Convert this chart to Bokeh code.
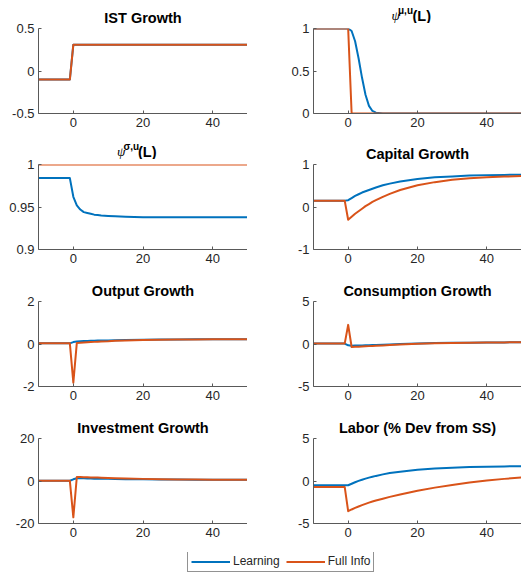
from bokeh.plotting import figure
from bokeh.models import Range1d, FixedTicker, Label, Legend, LegendItem, CustomJSTickFormatter
from bokeh.layouts import column, row
from bokeh.embed import file_html
from bokeh.resources import INLINE

# ---------------- data ----------------
t = [-10, -1, 0, 1, 2, 3, 4, 5, 6, 7, 8, 10, 12, 15, 20, 25, 30, 35, 40, 45, 50]

ist_learning = [-0.1, -0.1] + [0.31] * 19
ist_full = [-0.1, -0.1] + [0.31] * 19

psi_mu_learning = [1, 1, 1, 0.97, 0.85, 0.65, 0.42, 0.22, 0.09, 0.03, 0.01, 0, 0, 0, 0, 0, 0, 0, 0, 0, 0]
psi_mu_full = [1, 1, 1, 0, 0, 0, 0, 0, 0, 0, 0, 0, 0, 0, 0, 0, 0, 0, 0, 0, 0]

psi_sigma_learning = [0.984, 0.984, 0.962, 0.952, 0.947, 0.944, 0.943, 0.942, 0.941, 0.9405, 0.940,
                      0.9395, 0.939, 0.9385, 0.938, 0.938, 0.938, 0.938, 0.938, 0.938, 0.938]
psi_sigma_full = [1] * 21

capital_learning = [0.15, 0.15, 0.16, 0.21, 0.26, 0.30, 0.34, 0.37, 0.40, 0.43, 0.46,
                    0.51, 0.55, 0.60, 0.66, 0.70, 0.72, 0.74, 0.75, 0.755, 0.76]
capital_full = [0.15, 0.15, -0.30, -0.23, -0.16, -0.10, -0.04, 0.02, 0.07, 0.12, 0.16,
                0.24, 0.31, 0.40, 0.51, 0.585, 0.64, 0.675, 0.70, 0.715, 0.73]

output_learning = [0.03, 0.03, 0.09, 0.12, 0.13, 0.14, 0.14, 0.15, 0.15, 0.16, 0.16,
                   0.17, 0.18, 0.19, 0.20, 0.21, 0.21, 0.22, 0.22, 0.22, 0.22]
output_full = [0.03, 0.03, -1.82, 0.05, 0.06, 0.07, 0.08, 0.09, 0.10, 0.11, 0.12,
               0.13, 0.15, 0.17, 0.19, 0.20, 0.21, 0.21, 0.22, 0.22, 0.22]

consumption_learning = [0.05, 0.05, -0.15, -0.20, -0.19, -0.18, -0.17, -0.16, -0.15, -0.13, -0.12,
                        -0.08, -0.05, 0.0, 0.07, 0.11, 0.14, 0.16, 0.18, 0.19, 0.20]
consumption_full = [0.05, 0.05, 2.25, -0.35, -0.33, -0.31, -0.29, -0.27, -0.25, -0.23, -0.21,
                    -0.17, -0.13, -0.07, 0.02, 0.08, 0.12, 0.15, 0.17, 0.19, 0.20]

investment_learning = [0.1, 0.1, 0.8, 1.3, 1.3, 1.25, 1.2, 1.15, 1.1, 1.08, 1.05,
                       1.0, 0.95, 0.88, 0.78, 0.70, 0.65, 0.60, 0.57, 0.55, 0.53]
investment_full = [0.1, 0.1, -17.1, 1.9, 1.85, 1.8, 1.75, 1.7, 1.65, 1.6, 1.55,
                   1.45, 1.35, 1.2, 1.0, 0.85, 0.75, 0.67, 0.60, 0.56, 0.53]

labor_learning = [-0.5, -0.5, -0.5, -0.32, -0.15, 0.01, 0.15, 0.28, 0.40, 0.50, 0.60,
                  0.78, 0.93, 1.10, 1.32, 1.47, 1.57, 1.64, 1.69, 1.72, 1.75]
labor_full = [-0.7, -0.7, -3.55, -3.35, -3.17, -3.0, -2.84, -2.69, -2.55, -2.42, -2.30,
              -2.08, -1.87, -1.58, -1.15, -0.78, -0.46, -0.19, 0.05, 0.25, 0.42]

x_ticks = [0, 20, 40]
series_names = ["Learning", "Full Info"]

panels = [
    dict(title="IST Growth", learn=ist_learning, full=ist_full, yr=(-0.5, 0.5), yt=[-0.5, 0, 0.5]),
    dict(title=("ψ", "μ,u", "(L)"), learn=psi_mu_learning, full=psi_mu_full, yr=(0, 1), yt=[0, 0.5, 1]),
    dict(title=("ψ", "σ,u", "(L)"), learn=psi_sigma_learning, full=psi_sigma_full, yr=(0.9, 1), yt=[0.9, 0.95, 1]),
    dict(title="Capital Growth", learn=capital_learning, full=capital_full, yr=(-1, 1), yt=[-1, 0, 1]),
    dict(title="Output Growth", learn=output_learning, full=output_full, yr=(-2, 2), yt=[-2, 0, 2]),
    dict(title="Consumption Growth", learn=consumption_learning, full=consumption_full, yr=(-5, 5), yt=[-5, 0, 5]),
    dict(title="Investment Growth", learn=investment_learning, full=investment_full, yr=(-20, 20), yt=[-20, 0, 20]),
    dict(title="Labor (% Dev from SS)", learn=labor_learning, full=labor_full, yr=(-5, 5), yt=[-5, 0, 5]),
]

BLUE = "#0072BD"
ORANGE = "#D95319"
AX = "#595959"
TXT = "#262626"
FONT = "Liberation Sans"

FW = [209, 208]        # frame widths (left, right)
BL = [38, 66]          # left borders
FH = 85                # frame height
PT = 5                 # panel top border under a title strip
TOPS = [28, 27, 27, 27]      # space above each frame (titles)
BOTS = [24, 25, 25, 29]      # space under each frame


def make_strip(i, p):
    """Thin figure holding a composite (super-scripted) title."""
    col = i % 2
    rowi = i // 2
    H = TOPS[rowi] - PT
    f = figure(frame_width=FW[col], frame_height=H, x_range=Range1d(-10, 50), y_range=Range1d(0, H),
               toolbar_location=None, output_backend="svg", min_border_left=BL[col],
               min_border_right=0, min_border_top=0, min_border_bottom=0,
               x_axis_type=None, y_axis_type=None)
    f.outline_line_color = None
    f.xgrid.visible = False
    f.ygrid.visible = False
    base = 8
    a, b, c = p["title"]
    f.add_layout(Label(x=20, y=base, x_offset=-26, text=a, text_align="left",
                       text_baseline="alphabetic", text_font="Liberation Serif",
                       text_font_size="13.5px", text_font_style="italic", text_color="black"))
    f.add_layout(Label(x=20, y=base + 5, x_offset=-19.5, text=b, text_align="left",
                       text_baseline="alphabetic", text_font=FONT,
                       text_font_size="10px", text_font_style="bold", text_color="black"))
    f.add_layout(Label(x=20, y=base, x_offset=-5, text=c, text_align="left",
                       text_baseline="alphabetic", text_font=FONT,
                       text_font_size="14.5px", text_font_style="bold", text_color="black"))
    return f


def make_fig(i, p):
    col = i % 2
    rowi = i // 2
    plain = isinstance(p["title"], str)
    fig = figure(frame_width=FW[col], frame_height=FH,
                 x_range=Range1d(-10, 50), y_range=Range1d(*p["yr"]),
                 toolbar_location=None, output_backend="svg",
                 min_border_left=BL[col], min_border_right=0,
                 min_border_top=TOPS[rowi] if plain else PT, min_border_bottom=BOTS[rowi])
    fig.outline_line_color = None
    fig.xgrid.visible = False
    fig.ygrid.visible = False
    if plain:
        fig.title.text = p["title"]
        fig.title.align = "center"
        fig.title.text_font = FONT
        fig.title.text_font_size = "14.5px"
        fig.title.text_font_style = "bold"
        fig.title.text_color = "black"
        fig.title.standoff = 6
    fmt = CustomJSTickFormatter(code="return String(tick);")
    fig.xaxis.ticker = FixedTicker(ticks=x_ticks)
    fig.yaxis.ticker = FixedTicker(ticks=p["yt"])
    for ax in (fig.xaxis[0], fig.yaxis[0]):
        ax.formatter = fmt
        ax.axis_line_color = AX
        ax.axis_line_width = 1
        ax.major_tick_line_color = AX
        ax.major_tick_in = 3
        ax.major_tick_out = 0
        ax.minor_tick_line_color = None
        ax.major_label_text_font = FONT
        ax.major_label_text_font_size = "13px"
        ax.major_label_text_color = TXT
        ax.major_label_standoff = 4
    fig.line(t, p["learn"], line_color=BLUE, line_width=2, line_join="round")
    fig.line(t, p["full"], line_color=ORANGE, line_width=2, line_join="round")
    if plain:
        return fig
    return column(make_strip(i, p), fig)


items = []
for k in range(4):
    i0, i1 = 2 * k, 2 * k + 1
    items.append(row(make_fig(i0, panels[i0]), make_fig(i1, panels[i1])))

lf = figure(width=521, height=20, toolbar_location=None, output_backend="svg",
            x_range=Range1d(0, 1), y_range=Range1d(0, 1), min_border=0,
            x_axis_type=None, y_axis_type=None)
lf.outline_line_color = None
lf.xgrid.visible = False
lf.ygrid.visible = False
# legend proxies kept outside the visible range
r1 = lf.line(x=[-5, -4], y=[-5, -4], line_color=BLUE, line_width=2)
r2 = lf.line(x=[-5, -4], y=[-5, -4], line_color=ORANGE, line_width=2)
legend = Legend(items=[LegendItem(label=series_names[0], renderers=[r1]),
                       LegendItem(label=series_names[1], renderers=[r2])],
                orientation="horizontal", location=(187, 0), margin=0, padding=3,
                spacing=6, label_standoff=3, glyph_width=39, glyph_height=13,
                label_height=13, label_text_font=FONT, label_text_font_size="12px",
                label_text_color=TXT, border_line_color=TXT, border_line_width=1,
                background_fill_color="white", background_fill_alpha=1)
lf.add_layout(legend, "center")
items.append(lf)

p = column(*items)

open("out.html", "w").write(file_html(p, INLINE))
